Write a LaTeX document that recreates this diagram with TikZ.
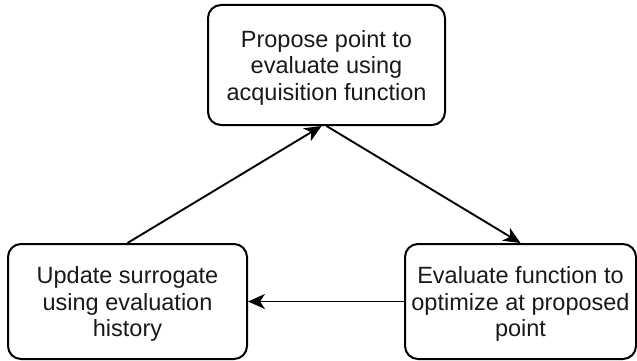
\documentclass[tikz,border=0pt]{standalone}
\usepackage{fontspec}
\setmainfont{Liberation Sans}
\usetikzlibrary{arrows.meta}
\newcommand{\lowerstrut}{\rule{0pt}{22.5pt}}
\begin{document}
\begin{tikzpicture}[x=1pt,y=1pt,
  stepbox/.style={draw=black, line width=2pt, rounded corners=13pt, align=center,
    inner sep=0pt, font=\fontsize{23.5}{26.5}\selectfont, text=black!90},
  conn/.style={draw=black, line width=1.9pt, -{Stealth[length=17pt,width=15pt,inset=5pt]}}]
\useasboundingbox (0,0) rectangle (637,-361);
\node[stepbox, minimum width=237pt, minimum height=120pt] (prop) at (326.5,-65)
  {\lowerstrut Propose point to\\evaluate using\\acquisition function};
\node[stepbox, minimum width=239pt, minimum height=115pt] (upd) at (127.5,-301.5)
  {\lowerstrut Update surrogate\\using evaluation\\history};
\node[stepbox, minimum width=231pt, minimum height=115pt] (eval) at (520.5,-301.5)
  {\lowerstrut Evaluate function to\\optimize at proposed\\point};
\draw[conn] (prop.south) -- (eval.north);
\draw[conn] (eval.west) -- (upd.east);
\draw[conn] (upd.north) -- ([xshift=-5pt]prop.south);
\end{tikzpicture}
\end{document}
